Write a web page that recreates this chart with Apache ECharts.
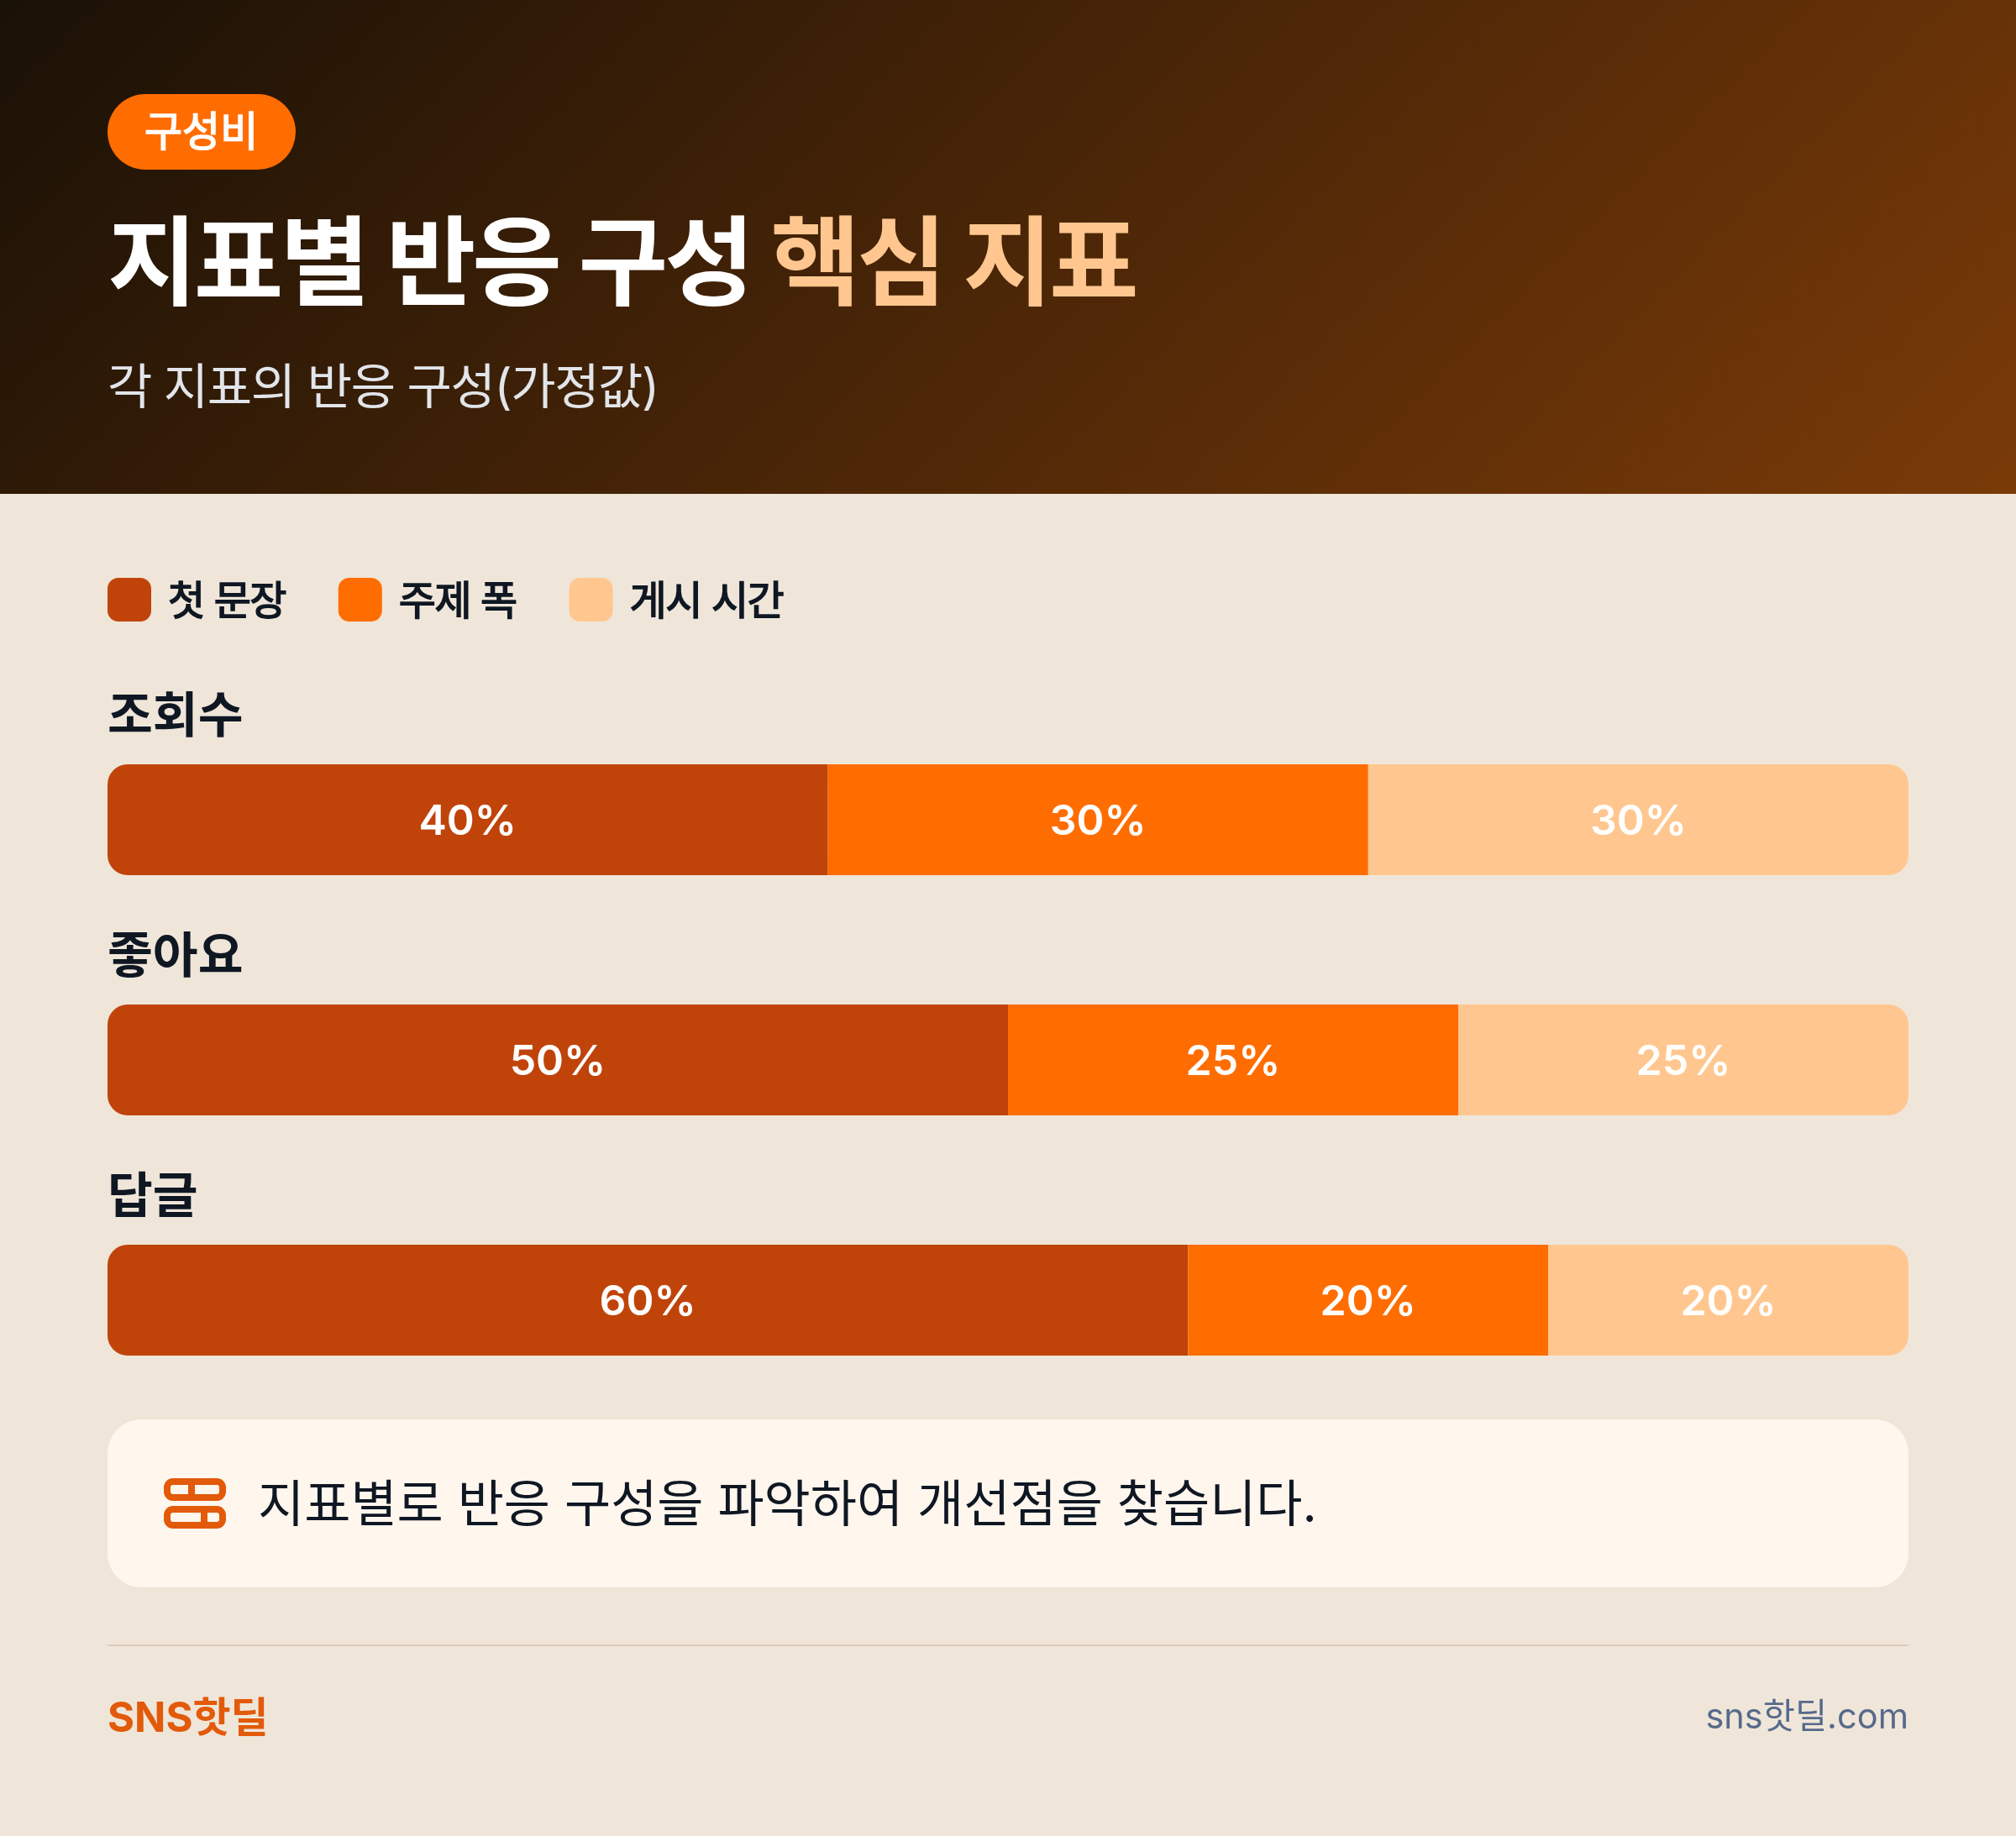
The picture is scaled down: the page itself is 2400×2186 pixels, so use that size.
<!DOCTYPE html>
<html lang="ko">
<head>
<meta charset="utf-8">
<style>html,body{margin:0;padding:0;background:#efe6d9}#c{width:2400px;height:2186px}</style>
<script src="https://cdn.jsdelivr.net/npm/echarts@6/dist/echarts.min.js"></script>
</head>
<body>
<div id="c"></div>
<script>
const categories = ['조회수', '좋아요', '답글'];
const seriesNames = ['첫 문장', '주제 폭', '게시 시간'];
const firstSentence = [40, 50, 60];
const topicWidth = [30, 25, 20];
const postTime = [30, 25, 20];
const colors = ['#c0440a', '#ff6d00', '#ffc78f'];

// letter-spacing by font size (px), applied to canvas text drawing and measuring
const tracking = {116: -4, 58: -1.4, 48: -1.5};
['fillText', 'strokeText', 'measureText'].forEach(function (fn) {
  const orig = CanvasRenderingContext2D.prototype[fn];
  CanvasRenderingContext2D.prototype[fn] = function () {
    const m = /([\d.]+)px/.exec(this.font);
    this.letterSpacing = ((m && tracking[parseFloat(m[1])]) || 0) + 'px';
    return orig.apply(this, arguments);
  };
});

const FONT = 'Inter, "Noto Sans CJK KR", sans-serif';
const ink = '#0f1723';
const chart = echarts.init(document.getElementById('c'), null, {renderer: 'canvas', width: 2400, height: 2186});

function text(str, cfg) {
  const lh = cfg.lh || 80;
  const pos = cfg.right != null ? {right: cfg.right} : {left: cfg.left};
  const style = {fontFamily: FONT, fontSize: cfg.size, fontWeight: cfg.weight || 400, color: cfg.color, lineHeight: lh, rich: cfg.rich};
  if (cfg.border) { style.textBorderColor = cfg.color; style.textBorderWidth = cfg.border; }
  return Object.assign(pos, {text: str, top: cfg.cy - lh / 2, padding: 0, z: 10, textStyle: style});
}

function barSeries(i, values, radius) {
  return {
    type: 'bar', name: seriesNames[i], stack: 'total', data: values, barWidth: 132,
    itemStyle: {color: colors[i], borderRadius: radius},
    label: {show: true, position: 'inside', offset: [0, 3], formatter: '{c}%', color: '#fff', fontFamily: FONT, fontSize: 50, fontWeight: 600},
    emphasis: {disabled: true}, animation: false
  };
}

chart.setOption({
  animation: false,
  backgroundColor: '#efe6d9',
  title: [
    text('구성비', {left: 172, cy: 159, size: 49, border: 1.6, color: '#fff'}),
    text('{a|지표별 반응 구성} {b|핵심 지표}', {left: 128, cy: 319, size: 116, weight: 700, lh: 140, color: '#fff', rich: {
      a: {fontFamily: FONT, fontSize: 116, fontWeight: 700, color: '#fff', lineHeight: 140},
      b: {fontFamily: FONT, fontSize: 116, fontWeight: 700, color: '#ffc78f', lineHeight: 140}
    }}),
    text('각 지표의 반응 구성(가정값)', {left: 128, cy: 464, size: 58, color: '#e2e5ea'}),
    text('지표별로 반응 구성을 파악하여 개선점을 찾습니다.', {left: 307, cy: 1794, size: 60, color: ink}),
    text('SNS핫딜', {left: 128, cy: 2047, size: 49, weight: 700, color: '#e25a0a'}),
    text('sns핫딜.com', {right: 128, cy: 2046, size: 41.5, color: '#566a8c'})
  ].concat(categories.map(function (c, i) {
    return text(c, {left: 128, cy: 854 + 286 * i, size: 58.5, weight: 600, color: ink});
  })),
  legend: {
    left: 128, top: 688, padding: 0, itemWidth: 52, itemHeight: 52, itemGap: 62, icon: 'roundRect',
    selectedMode: false, data: seriesNames,
    formatter: '{t|{name}}',
    textStyle: {rich: {t: {fontFamily: FONT, fontSize: 48, fontWeight: 400, color: ink, textBorderColor: ink, textBorderWidth: 1.6, padding: [7, 0, 0, 15]}}}
  },
  grid: {left: 128, width: 2144, top: 833, height: 858, containLabel: false},
  xAxis: {type: 'value', min: 0, max: 100, show: false},
  yAxis: {
    type: 'category', data: categories, inverse: true,
    axisLine: {show: false}, axisTick: {show: false}, splitLine: {show: false},
    axisLabel: {show: false}
  },
  series: [
    barSeries(0, firstSentence, [24, 0, 0, 24]),
    barSeries(1, topicWidth, 0),
    barSeries(2, postTime, [0, 24, 24, 0])
  ],
  graphic: [
    {type: 'rect', z: -10, silent: true, shape: {x: 0, y: 0, width: 2400, height: 588},
      style: {fill: new echarts.graphic.LinearGradient(453, -453, 1947, 1041, [
        {offset: 0, color: '#1a1106'}, {offset: 1, color: '#7a3a08'}], true)}},
    {type: 'rect', z: -5, silent: true, shape: {x: 128, y: 112, width: 224, height: 90, r: 45}, style: {fill: '#ff6d00'}},
    {type: 'rect', z: -5, silent: true, shape: {x: 128, y: 1690, width: 2144, height: 200, r: 40}, style: {fill: '#fff6ed'}},
    {type: 'rect', silent: true, shape: {x: 199, y: 1764, width: 66, height: 19, r: 7}, style: {fill: 'none', stroke: '#e25a0a', lineWidth: 8}},
    {type: 'rect', silent: true, shape: {x: 199, y: 1797, width: 66, height: 19, r: 7}, style: {fill: 'none', stroke: '#e25a0a', lineWidth: 8}},
    {type: 'line', silent: true, shape: {x1: 228, y1: 1764, x2: 228, y2: 1783}, style: {stroke: '#e25a0a', lineWidth: 8}},
    {type: 'line', silent: true, shape: {x1: 243, y1: 1797, x2: 243, y2: 1816}, style: {stroke: '#e25a0a', lineWidth: 8}},
    {type: 'rect', silent: true, shape: {x: 128, y: 1958, width: 2144, height: 2}, style: {fill: '#dccabb'}}
  ]
});
</script>
</body>
</html>
